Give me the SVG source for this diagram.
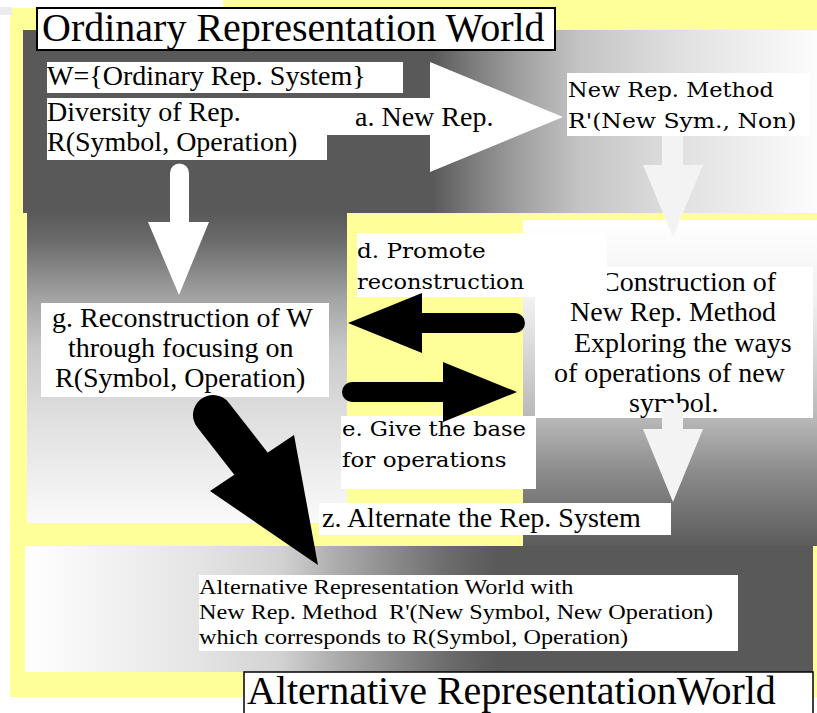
<svg xmlns="http://www.w3.org/2000/svg" width="817" height="713" viewBox="0 0 817 713">
<style>
.box{fill:#fff}
.blk{fill:#000}
.wht{fill:#fff}
.faint{fill:#f3f3f3}
</style>
<defs>
<linearGradient id="gTop" gradientUnits="userSpaceOnUse" x1="23" y1="0" x2="817" y2="0">
<stop offset="0" stop-color="#595959"/>
<stop offset="0.516" stop-color="#595959"/>
<stop offset="0.563" stop-color="#7a7a7a"/>
<stop offset="0.626" stop-color="#a0a0a0"/>
<stop offset="0.702" stop-color="#c4c4c4"/>
<stop offset="0.827" stop-color="#e0e0e0"/>
<stop offset="1" stop-color="#fcfcfc"/>
</linearGradient>
<linearGradient id="gLeft" gradientUnits="userSpaceOnUse" x1="0" y1="212" x2="0" y2="523">
<stop offset="0" stop-color="#595959"/>
<stop offset="0.09" stop-color="#6a6a6a"/>
<stop offset="0.28" stop-color="#a4a4a4"/>
<stop offset="0.44" stop-color="#c8c8c8"/>
<stop offset="0.67" stop-color="#e0e0e0"/>
<stop offset="1" stop-color="#fafafa"/>
</linearGradient>
<linearGradient id="gRight" gradientUnits="userSpaceOnUse" x1="0" y1="220" x2="0" y2="546">
<stop offset="0" stop-color="#ffffff"/>
<stop offset="0.25" stop-color="#f0f0f0"/>
<stop offset="0.61" stop-color="#b8b8b8"/>
<stop offset="0.77" stop-color="#8c8c8c"/>
<stop offset="1" stop-color="#5c5c5c"/>
</linearGradient>
<linearGradient id="gBot" gradientUnits="userSpaceOnUse" x1="25" y1="0" x2="813" y2="0">
<stop offset="0" stop-color="#ffffff"/>
<stop offset="0.222" stop-color="#e4e4e4"/>
<stop offset="0.324" stop-color="#d2d2d2"/>
<stop offset="0.388" stop-color="#b0b0b0"/>
<stop offset="0.451" stop-color="#929292"/>
<stop offset="0.535" stop-color="#6c6c6c"/>
<stop offset="0.60" stop-color="#595959"/>
<stop offset="1" stop-color="#595959"/>
</linearGradient>
</defs>

<g id="background">
<rect x="0" y="0" width="817" height="713" fill="#fff"/>
<rect x="10" y="8" width="807" height="689" fill="#ffff99"/>
<rect x="223" y="0" width="594" height="8" fill="#ffff99"/>
<rect x="0" y="7" width="12" height="8" fill="#ececec"/>
</g>

<g id="ordinary-world">
<rect x="23" y="30" width="794" height="183" fill="url(#gTop)"/>
</g>
<g id="reconstruction-area">
<rect x="27" y="212" width="320" height="311" fill="url(#gLeft)"/>
</g>
<g id="construction-area">
<rect x="523" y="220" width="294" height="326" fill="url(#gRight)"/>
</g>
<g id="alternative-world">
<rect x="25" y="546" width="788" height="126" fill="url(#gBot)"/>
</g>

<g id="title-ordinary">
<rect x="37" y="8" width="518" height="42" fill="#fff" stroke="#000" stroke-width="2"/>
<text x="42" y="41" font-family="Liberation Serif, serif" font-size="40" fill="#000">Ordinary Representation World</text>
</g>

<g id="connectors">
<path class="wht" d="M327,98 H430 V62 L563,117 L430,172 V135 H327 Z"/>
<path class="wht" d="M170,222 V173 A9.5,9.5 0 0 1 189,173 V222 H209 L179,295 L148,222 Z"/>
<path class="faint" d="M662,135 H683 V165 H703 L673,237 L643,165 H662 Z"/>
</g>

<g id="node-w">
<rect class="box" x="47" y="62" width="356" height="31"/>
<text x="47" y="85" font-family="Liberation Serif, serif" font-size="28" fill="#000">W={Ordinary Rep. System}</text>
</g>
<g id="node-diversity">
<rect class="box" x="47" y="98" width="280" height="62"/>
<text x="47" y="121" font-family="Liberation Serif, serif" font-size="28" fill="#000">Diversity of Rep.</text>
<text x="47" y="151" font-family="Liberation Serif, serif" font-size="28" fill="#000">R(Symbol, Operation)</text>
</g>
<g id="label-a">
<text x="355" y="126" font-family="Liberation Serif, serif" font-size="28" fill="#000">a. New Rep.</text>
</g>
<g id="node-new-method">
<rect class="box" x="567" y="73" width="243" height="63"/>
<text transform="translate(568,97) scale(1.07,1)" font-family="DejaVu Serif, serif" font-size="21" fill="#000">New Rep. Method</text>
<text transform="translate(568,128) scale(1.12,1)" font-family="DejaVu Serif, serif" font-size="21" fill="#000">R'(New Sym., Non)</text>
</g>

<g id="node-construction">
<rect class="box" x="535" y="267" width="278" height="151"/>
<text x="601" y="291" font-family="Liberation Serif, serif" font-size="28" fill="#000">Construction of</text>
<text x="570" y="321" font-family="Liberation Serif, serif" font-size="28" fill="#000">New Rep. Method</text>
<text x="574" y="352" font-family="Liberation Serif, serif" font-size="28" fill="#000">Exploring the ways</text>
<text x="554" y="382" font-family="Liberation Serif, serif" font-size="28" fill="#000">of operations of new</text>
<text x="629" y="412" font-family="Liberation Serif, serif" font-size="28" fill="#000">symbol.</text>
</g>
<g id="label-d">
<rect class="box" x="357" y="233" width="250" height="64"/>
<text transform="translate(357,258) scale(1.1,1)" font-family="DejaVu Serif, serif" font-size="21" fill="#000">d. Promote</text>
<text transform="translate(357,289) scale(1.07,1)" font-family="DejaVu Serif, serif" font-size="21" fill="#000">reconstruction</text>
</g>
<g id="node-reconstruction">
<rect class="box" x="41" y="303" width="288" height="94"/>
<text x="52" y="327" font-family="Liberation Serif, serif" font-size="28" fill="#000">g. Reconstruction of W</text>
<text x="68" y="357" font-family="Liberation Serif, serif" font-size="28" fill="#000">through focusing on</text>
<text x="55" y="387" font-family="Liberation Serif, serif" font-size="28" fill="#000">R(Symbol, Operation)</text>
</g>
<g id="label-e">
<rect class="box" x="341" y="416" width="195" height="73"/>
<text transform="translate(342,436) scale(1.08,1)" font-family="DejaVu Serif, serif" font-size="21" fill="#000">e. Give the base</text>
<text transform="translate(342,467) scale(1.095,1)" font-family="DejaVu Serif, serif" font-size="21" fill="#000">for operations</text>
</g>
<g id="label-z">
<rect class="box" x="319" y="503" width="352" height="32"/>
<text x="322" y="527" font-family="Liberation Serif, serif" font-size="28" fill="#000">z. Alternate the Rep. System</text>
</g>
<g id="node-alternative">
<rect class="box" x="199" y="575" width="539" height="76"/>
<text transform="translate(199,594) scale(1.1,1)" font-family="Liberation Serif, serif" font-size="22" fill="#000">Alternative Representation World with</text>
<text transform="translate(199,619) scale(1.1,1)" font-family="Liberation Serif, serif" font-size="22" fill="#000" xml:space="preserve">New Rep. Method  R'(New Symbol, New Operation)</text>
<text transform="translate(199,644) scale(1.1,1)" font-family="Liberation Serif, serif" font-size="22" fill="#000">which corresponds to R(Symbol, Operation)</text>
</g>
<g id="title-alternative">
<rect x="244" y="672" width="569" height="45" fill="#fff" stroke="#000" stroke-width="1.5"/>
<text x="247" y="704" font-family="Liberation Serif, serif" font-size="40" fill="#000">Alternative RepresentationWorld</text>
</g>

<g id="connectors-front">
<path class="blk" d="M348,323 L422,293 V313 H515 A10,10 0 0 1 515,333 H422 V353 Z"/>
<path class="blk" d="M517,392 L443,362 V382 H352 A10,10 0 0 0 352,402 H443 V422 Z"/>
<line x1="213" y1="415" x2="252" y2="465" stroke="#000" stroke-width="40" stroke-linecap="round"/>
<polygon class="blk" points="210,491 294,435 318,565"/>
<path class="faint" d="M662,403 H683 V429 H703 L673,502 L643,429 H662 Z"/>
</g>
</svg>
